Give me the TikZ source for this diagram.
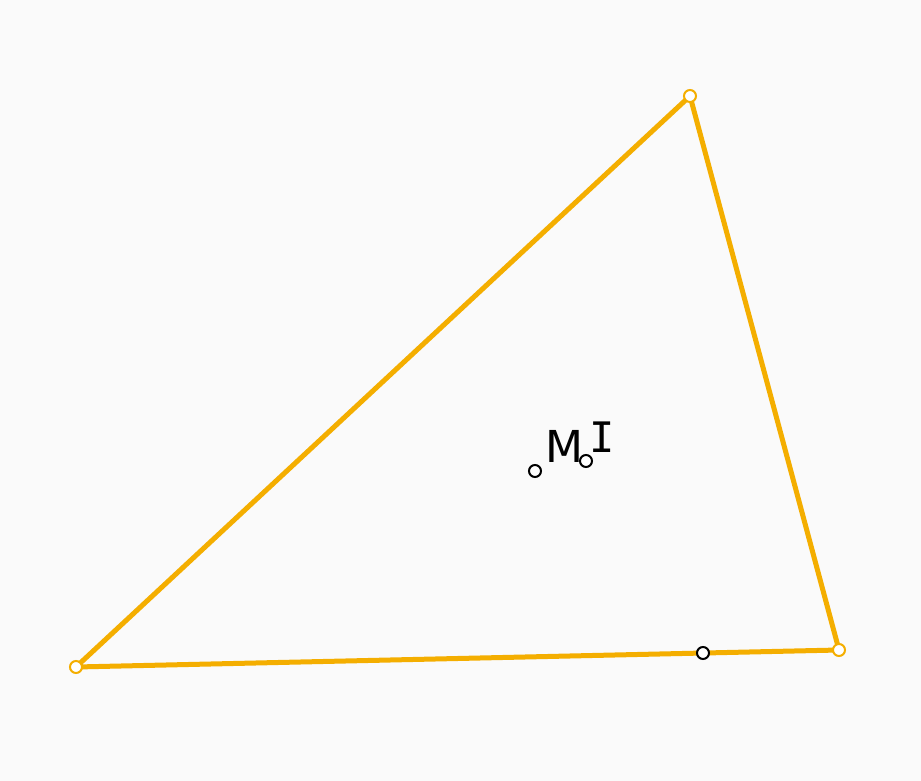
\documentclass[tikz,border=0pt]{standalone}
\usepackage{fontspec}
\setmainfont{DejaVu Sans}
\newfontfamily\monofnt{DejaVu Sans Mono}
\definecolor{bg}{RGB}{250,250,250}
\definecolor{seg}{RGB}{244,174,0}
\begin{document}
\begin{tikzpicture}[x=1pt,y=-1pt,
  side/.style={draw=seg,line width=5pt,line cap=round},
  vtx/.style={circle,draw=seg,fill=white,line width=2pt,inner sep=0pt,minimum size=12pt},
  pt/.style={circle,draw=black,fill=white,line width=2pt,inner sep=0pt,minimum size=12pt},
  lbl/.style={inner sep=0pt,font=\fontsize{44}{44}\selectfont}]
\fill[bg] (0,0) rectangle (921,781);
\useasboundingbox (0,0) rectangle (921,781);
\coordinate (A) at (76,667);
\coordinate (B) at (690,96);
\coordinate (C) at (839,650);
\draw[side] (A) -- (B) -- (C) -- cycle;
\node[vtx] (vA) at (A) {};
\node[vtx] (vB) at (B) {};
\node[vtx] (vC) at (C) {};
\node[pt] (M) at (535,471) {};
\node[pt] (I) at (586,461) {};
\node[pt] (D) at (703,653) {};
\node[lbl,anchor=base west] (lM) at (545,462) {M};
\node[lbl,anchor=base west,font=\monofnt\fontsize{42}{42}\selectfont] (lI) at (589,452) {I};
\end{tikzpicture}
\end{document}
